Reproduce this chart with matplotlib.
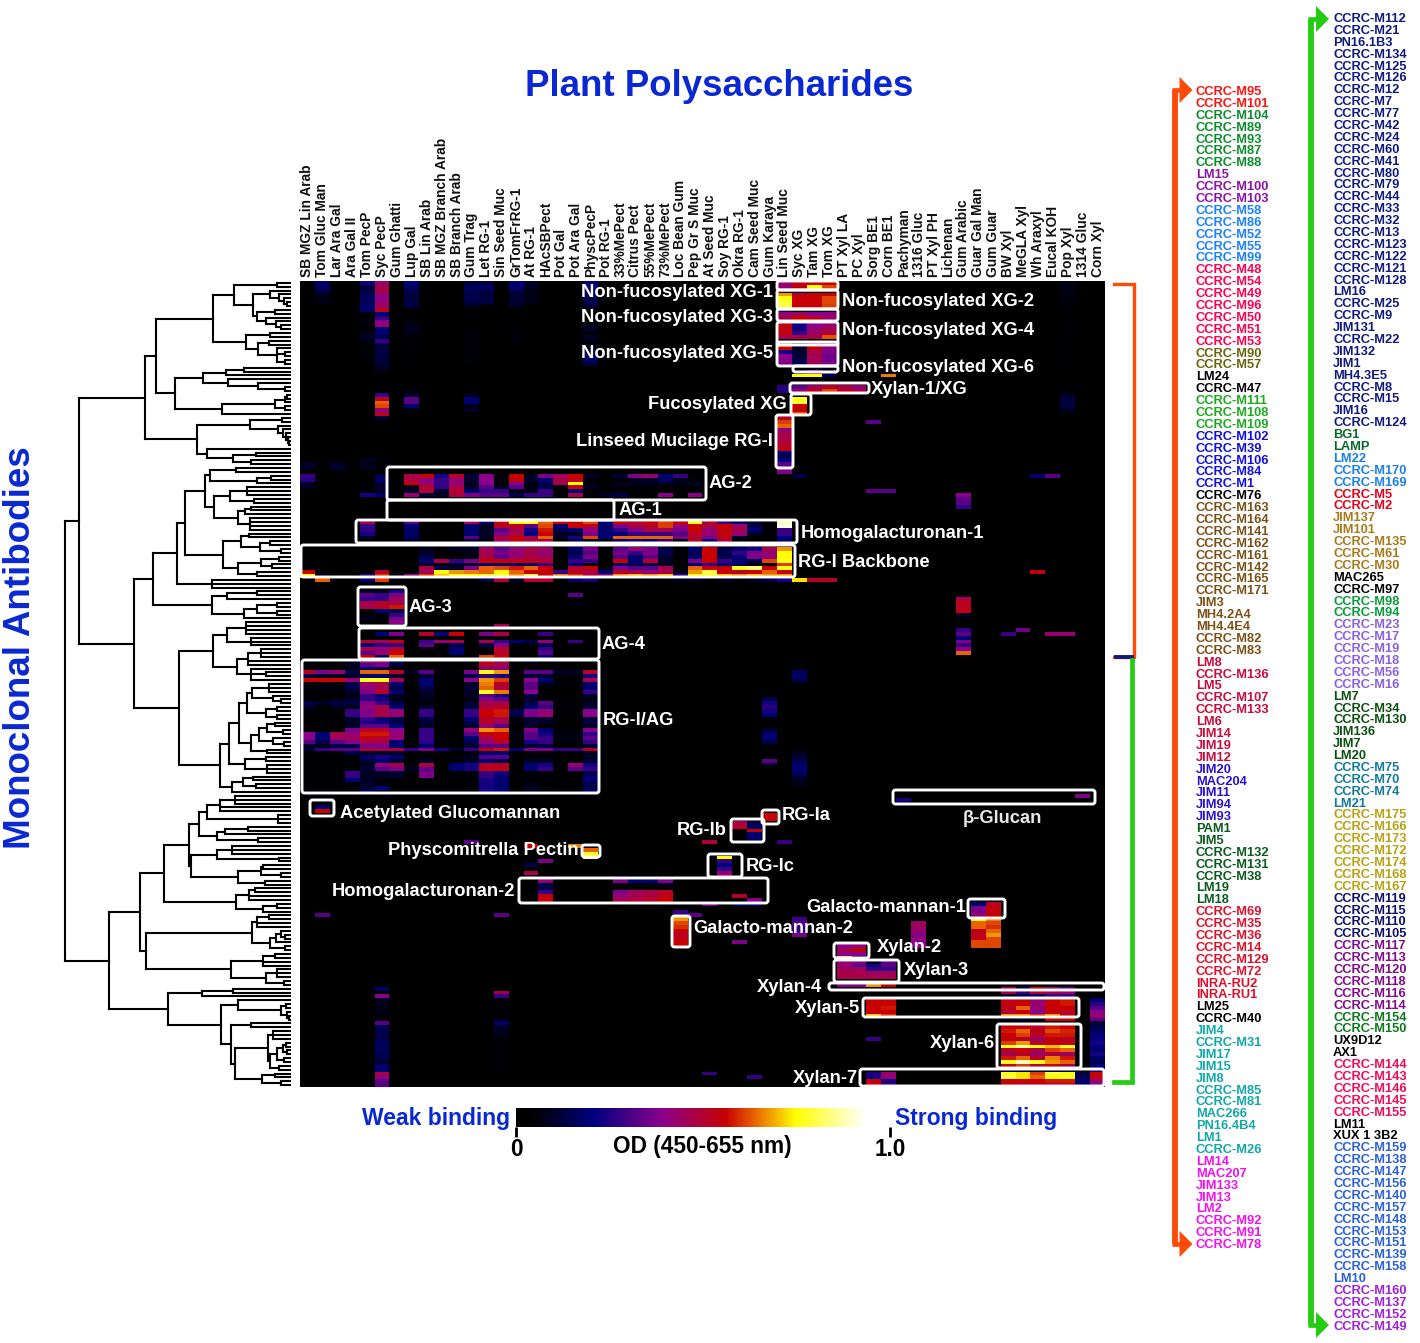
import numpy as np
import matplotlib
matplotlib.use("Agg")
import matplotlib.pyplot as plt
from matplotlib.collections import LineCollection
from matplotlib.colors import LinearSegmentedColormap
from matplotlib.patches import FancyBboxPatch, Polygon

plt.rcParams['font.family'] = ['Liberation Sans', 'DejaVu Sans']

W, H = 1420, 1343
BLUE = '#0a28d2'
ORANGE = '#ff4a08'
GREEN = '#26cc14'

column_labels = [
    'SB MGZ Lin Arab', 'Tom Gluc Man', 'Lar Ara Gal', 'Ara Gal II', 'Tom PecP', 'Syc PecP', 'Gum Ghatti',
    'Lup Gal', 'SB Lin Arab', 'SB MGZ Branch Arab', 'SB Branch Arab', 'Gum Trag', 'Let RG-1', 'Sin Seed Muc',
    'GrTomFrRG-1', 'At RG-1', 'HAcSBPect', 'Pot Gal', 'Pot Ara Gal', 'PhyscPecP', 'Pot RG-1', '33%MePect',
    'Citrus Pect', '55%MePect', '73%MePect', 'Loc Bean Gum', 'Pep Gr S Muc', 'At Seed Muc', 'Soy RG-1',
    'Okra RG-1', 'Cam Seed Muc', 'Gum Karaya', 'Lin Seed Muc', 'Syc XG', 'Tam XG', 'Tom XG', 'PT Xyl LA',
    'PC Xyl', 'Sorg BE1', 'Corn BE1', 'Pachyman', '1316 Gluc', 'PT Xyl PH', 'Lichenan', 'Gum Arabic',
    'Guar Gal Man', 'Gum Guar', 'BW Xyl', 'MeGLA Xyl', 'Wh Araxyl', 'Eucal KOH', 'Pop Xyl', '1314 Gluc',
    'Corn Xyl']

# antibodies, top to bottom, with the colour runs of each list
left_labels = ('CCRC-M95,CCRC-M101,CCRC-M104,CCRC-M89,CCRC-M93,CCRC-M87,CCRC-M88,LM15,CCRC-M100,CCRC-M103,'
               'CCRC-M58,CCRC-M86,CCRC-M52,CCRC-M55,CCRC-M99,CCRC-M48,CCRC-M54,CCRC-M49,CCRC-M96,CCRC-M50,'
               'CCRC-M51,CCRC-M53,CCRC-M90,CCRC-M57,LM24,CCRC-M47,CCRC-M111,CCRC-M108,CCRC-M109,CCRC-M102,'
               'CCRC-M39,CCRC-M106,CCRC-M84,CCRC-M1,CCRC-M76,CCRC-M163,CCRC-M164,CCRC-M141,CCRC-M162,'
               'CCRC-M161,CCRC-M142,CCRC-M165,CCRC-M171,JIM3,MH4.2A4,MH4.4E4,CCRC-M82,CCRC-M83,LM8,CCRC-M136,'
               'LM5,CCRC-M107,CCRC-M133,LM6,JIM14,JIM19,JIM12,JIM20,MAC204,JIM11,JIM94,JIM93,PAM1,JIM5,'
               'CCRC-M132,CCRC-M131,CCRC-M38,LM19,LM18,CCRC-M69,CCRC-M35,CCRC-M36,CCRC-M14,CCRC-M129,CCRC-M72,'
               'INRA-RU2,INRA-RU1,LM25,CCRC-M40,JIM4,CCRC-M31,JIM17,JIM15,JIM8,CCRC-M85,CCRC-M81,MAC266,'
               'PN16.4B4,LM1,CCRC-M26,LM14,MAC207,JIM133,JIM13,LM2,CCRC-M92,CCRC-M91,CCRC-M78').split(',')
left_runs = [2, 5, 3, 5, 7, 2, 2, 3, 5, 1, 13, 9, 5, 7, 8, 2, 11, 8]
left_colors = ['#ff1410', '#0c8c2c', '#8a12aa', '#1a80ff', '#ff0050', '#66660c', 'black', '#1caa1c', '#1010e0',
               'black', '#7a5016', '#c80a3c', '#2a10d0', '#0a5a1e', '#e0102a', 'black', '#10a8a8', '#f010f0']

right_labels = ('CCRC-M112,CCRC-M21,PN16.1B3,CCRC-M134,CCRC-M125,CCRC-M126,CCRC-M12,CCRC-M7,CCRC-M77,CCRC-M42,'
                'CCRC-M24,CCRC-M60,CCRC-M41,CCRC-M80,CCRC-M79,CCRC-M44,CCRC-M33,CCRC-M32,CCRC-M13,CCRC-M123,'
                'CCRC-M122,CCRC-M121,CCRC-M128,LM16,CCRC-M25,CCRC-M9,JIM131,CCRC-M22,JIM132,JIM1,MH4.3E5,'
                'CCRC-M8,CCRC-M15,JIM16,CCRC-M124,BG1,LAMP,LM22,CCRC-M170,CCRC-M169,CCRC-M5,CCRC-M2,JIM137,'
                'JIM101,CCRC-M135,CCRC-M61,CCRC-M30,MAC265,CCRC-M97,CCRC-M98,CCRC-M94,CCRC-M23,CCRC-M17,'
                'CCRC-M19,CCRC-M18,CCRC-M56,CCRC-M16,LM7,CCRC-M34,CCRC-M130,JIM136,JIM7,LM20,CCRC-M75,CCRC-M70,'
                'CCRC-M74,LM21,CCRC-M175,CCRC-M166,CCRC-M173,CCRC-M172,CCRC-M174,CCRC-M168,CCRC-M167,CCRC-M119,'
                'CCRC-M115,CCRC-M110,CCRC-M105,CCRC-M117,CCRC-M113,CCRC-M120,CCRC-M118,CCRC-M116,CCRC-M114,'
                'CCRC-M154,CCRC-M150,UX9D12,AX1,CCRC-M144,CCRC-M143,CCRC-M146,CCRC-M145,CCRC-M155,LM11,XUX 1 3B2,'
                'CCRC-M159,CCRC-M138,CCRC-M147,CCRC-M156,CCRC-M140,CCRC-M157,CCRC-M148,CCRC-M153,CCRC-M151,'
                'CCRC-M139,CCRC-M158,LM10,CCRC-M160,CCRC-M137,CCRC-M152,CCRC-M149').split(',')
right_runs = [35, 2, 3, 2, 5, 2, 2, 6, 6, 4, 7, 4, 6, 2, 2, 5, 2, 12, 4]
right_colors = ['#101a80', '#0a6a2a', '#1a80e8', '#e0001a', '#a87a1a', 'black', '#0a9a3a', '#8a60e0', '#0a500f',
                '#107a9a', '#b8a010', '#10106a', '#800a8a', '#0a7a1a', 'black', '#f00a5a', 'black', '#2a60d8',
                '#a020d8']

# OD readings, in blocks of rows; the rest of the matrix stays near zero
xg_block = [
    [.45, .58, .6, .6], [.45, .58, .8, .66], [.05, .02, .02, .02], [.72, .55, .6, .6], [.8, .6, .6, .66],
    [.85, .6, .6, .66], [.85, .6, .6, .65], [.1, .05, .05, .05], [.45, .48, .42, .44], [.5, .6, .56, .47],
    [.05, .05, .05, .05], [.58, .25, .42, .45], [.58, .25, .45, .5], [.58, .3, .48, .52], [.5, .5, .5, .67],
    [.05, .05, .05, .05], [.66, .12, .58, .42], [.6, .1, .58, .42], [.25, .12, .5, .4], [.42, .12, .5, .38],
    [.42, .15, .48, .38], [.4, .15, .5, .42], [.02, .05, .1, .05], [.02, .2, .42, .25], [.02, .8, .8, .15]]
xylan1_block = [[.27, .35, .48, .55, .5, .45], [.27, .45, .58, .66, .58, .5]]
fuc_xg_column = [.82, .84, .6, .6, .68]
linseed_column = [.55, .65, .68, .42, .5, .5, .52, .55, .58, .2, .15, .22, .35, .4, .4]
syc_pecp_top = [.45, .5, .5, .45, .42, .45, .48, .55, .2, .3, .42, .45, .2, .2, .15, .3, .14, .14, .14, .13, .13,
                .12, .1, .06, .05, .03, .03, .03, .03, .3, .55, .68, .66, .45, .55, .12]
tom_pecp_top = [.25, .13, .13, .17, .17, .17, .19, .19, .04, .06, .08, .05, .05, .08, .1, .08, .06, .06, .06, .06, .05]
lup_gal_top = [.22, .18, .15, .13, .13, .14, .14, 0, 0, .04, .05, .08, .1, .08, .05, .04, .04, .04, .03, .03, .02,
               0, 0, 0, 0, 0, 0, 0, .08, .1, .35, .35, .2, .08]
gum_trag_top = [.12, .18, .16, .14, .16, .14, .1, 0, 0, 0, 0, .03, .05, .05, .05, .05, .05, .05, .05, .06, .06,
                .04, 0, 0, 0, 0, 0, 0, .06, .08, .2, .2, .08, .1]
let_rg_top = [.14, .18, .15, .12, .14, .14, .06]
tom_gluc_top = [.18, .18, .15, .08, .08, .08]
grtom_top = [.2, .2, .15, .12, .12, .12, .1, 0, 0, 0, 0, .03, .05, .05, .07, .05]
at_rg_top = [.1, .1, .08, .08, .08, .08]
physc_top = [.2, .25, .2, .18, .15, .15, .12, 0, 0, 0, 0, .05, .12, .02, .12, .02, .08, .1, .12, .15, .2, .12]
pop_xyl_top = [.08, .08, .08, .07, .07, .06, .05, .04, .04, 0, 0, .06, .06, .05, .04, 0, .03, .03, .03, .03, .03,
               0, 0, 0, 0, 0, 0, 0, 0, .1, .13, .13, .13, .1, .05]
faint_block = [[.03, .02, .06, .02, .1, .07], [.1, .04, .1, .02, .08, .06], [.1, .02, .12, .02, .1, .04]]

ag2_block = [
    [.5, .6, .25, .55, .12, .42, .05, .6, .1, .4, .48, .6, .1, .05, .12, .4, .45, .2, .3, .05],
    [.52, .42, .3, .45, .12, .42, .05, .58, .1, .2, .5, .58, .05, .03, .05, .08, .1, .18, .08, .05],
    [.6, .45, .3, .45, .1, .42, .05, .42, .08, .15, .5, .8, .05, .03, .1, .1, .1, .1, .1, .1],
    [.1, .55, .3, .5, .1, .35, .1, .35, .08, .15, .05, .6, .1, .03, .05, .05, .05, .05, .05, .05],
    [.1, .52, .12, .55, .2, .3, .3, .08, .08, .3, .05, .2, .03, .03, .03, .03, .03, .03, .03, .03],
    [.45, .12, .1, .5, .4, .35, .35, .15, .3, .3, .05, .5, .03, .1, .15, .03, .05, .42, .05, .42]]
ag2_left_block = [[.3, 0, 0, 0, 0, .15], [.28, 0, 0, 0, 0, .2], [.1, 0, 0, 0, 0, .12], [.1, 0, 0, 0, 0, .12],
                  [.02, 0, 0, 0, .05, .1], [.02, 0, 0, 0, .25, .2]]
hg1_block = [
    [.5, 0, 0, .35, 0, 0, 0, .5, .2, .6, .8, .8, .68, .6, .6, .66, .2, .6, .55, .6, .65, .6, .8, .55, .3, .2, .1, .05, .95],
    [.3, 0, 0, .2, 0, 0, 0, .2, .1, .55, .55, .35, .66, .2, .6, .55, .2, .4, .5, .55, .65, .45, .6, .5, .6, .48, .15, .02, .98],
    [.3, 0, 0, .18, 0, 0, 0, .2, .1, .35, .5, .25, .62, .15, .2, .45, .2, .3, .4, .5, .5, .4, .6, .45, .58, .5, .2, .02, .3],
    [.25, 0, 0, .18, 0, 0, 0, .2, .1, .4, .52, .22, .6, .1, .1, .4, .2, .22, .3, .3, .3, .35, .55, .45, .58, .45, .1, .02, .3],
    [.1, 0, 0, .18, 0, 0, 0, .35, .1, .55, .58, .5, .68, .1, .25, .66, .2, .68, .68, .68, .68, .4, .55, .4, .58, .1, .02, .02, .22],
    [.05, 0, 0, .1, 0, 0, 0, .1, .02, .45, .58, .52, .5, .02, .15, .1, .02, .2, .25, .2, .3, .05, .55, .2, .5, .05, .02, .02, .2]]
backbone_block = [
    [0, 0, 0, 0, 0, 0, 0, 0, .1, .05, .1, .1, .48, .35, .45, .5, .48, .05, .2, .4, .02, .35, .45, .4, .15, .02, .2, .6, .15, .2, .25, .5, .72],
    [0, 0, 0, 0, 0, 0, 0, 0, .1, .03, .05, .08, .5, .4, .45, .5, .45, .03, .15, .35, .02, .4, .3, .4, .15, .02, .15, .6, .15, .3, .4, .45, .8],
    [0, 0, 0, 0, 0, 0, 0, 0, .15, .03, .05, .08, .5, .35, .45, .5, .48, .03, .2, .4, .02, .35, .2, .35, .12, .02, .2, .6, .15, .2, .4, .45, .8],
    [0, 0, 0, 0, 0, 0, 0, 0, .2, .5, .3, .4, .6, .6, .6, .58, .55, .03, .3, .3, .02, .6, .2, .55, .1, .02, .4, .6, .3, .2, .15, .66, .82],
    [0, 0, 0, 0, 0, 0, 0, 0, .1, .05, .1, .1, .2, .2, .2, .2, .3, .03, .2, .05, .02, .2, .15, .15, .1, .02, .2, .3, .2, .2, .05, .05, .65],
    [0, 0, 0, 0, 0, 0, 0, 0, .5, .15, .12, .4, .68, .66, .62, .68, .6, .05, .55, .6, .05, .4, .35, .35, .5, .05, .68, .6, .6, .82, .88, .6, .82],
    [.6, 0, 0, 0, .05, .55, 0, .05, .5, .8, .72, .7, .68, .8, .68, .6, .6, .3, .55, .5, .2, .55, .5, .45, .5, .1, .72, .85, .6, .55, .6, .68, .6],
    [.8, .1, 0, 0, .3, .65, .1, .45, .65, .75, .8, .8, .8, .85, .72, .85, .6, .7, .65, .55, .45, .72, .75, .72, .75, .3, .8, .82, .75, .72, .75, .72, .72],
    [0, .68, 0, 0, .2, .65, 0, 0, 0, 0, 0, 0, .15, .55, .1, .55, .55, .05, .2, .25, 0, 0, 0, .05, 0, .1, .1, 0, .1, .05, .1, .15, .25, .78, .55, .55]]
ag3_block = [[.1, .1, .25], [.35, .3, .4], [.3, .3, .48], [.5, .55, .5], [.5, .55, .62], [.05, .2, .15],
             [.05, .05, .3], [.1, .02, .4], [.05, .02, .42]]
ag4_block = [
    [0, .2, .4, 0, .55, .2, .6, 0, .4, .5, 0, 0, .3],
    [.05, .05, .05, 0, .05, .05, .05, 0, .05, .05, 0, 0, .05],
    [.55, .5, .6, 0, .3, .45, .52, 0, .5, .3, .2, .15, .45, 0, .3],
    [.2, .3, .3, 0, .35, .05, .15, 0, .15, .4, .05, .05, .15],
    [.5, .45, .55, 0, .05, .05, .2, 0, .05, .55, 0, 0, .3],
    [.35, .45, .6, 0, .02, .05, .2, 0, .05, .55, 0, 0, .35],
    [.6, .15, .68, 0, 0, 0, 0, 0, .65, .6, 0, 0, .2]]
rg1_ag_block = [
    [.02, .02, .02, .1, .45, .45, .2, 0, 0, 0, 0, 0, .6, .5, 0, .1, 0, 0, 0, 0],
    [.02, .02, .02, .1, .35, .4, .12, 0, 0, 0, 0, 0, .55, .5, 0, .05, 0, 0, 0, 0],
    [.02, .02, .02, .05, .2, .15, .05, 0, 0, 0, 0, 0, .4, .4, 0, .05, 0, 0, 0, 0],
    [.55, .4, .45, .15, .68, .68, .55, .1, .35, .05, .05, .4, .8, .72, .05, .35, .35, .1, .1, .55],
    [.15, .1, .1, .1, .2, .2, .12, .03, .12, .03, .03, .15, .3, .25, .03, .12, .12, .05, .05, .25],
    [.6, .6, .6, .45, .82, .82, .5, .05, .2, .03, .03, .42, .72, .65, .05, .42, .2, .05, .05, .5],
    [.05, .05, .05, .15, .45, .5, .2, .03, .2, 0, 0, .1, .7, .55, .03, .35, .1, .03, .03, .2],
    [.08, .08, .08, .15, .45, .5, .15, .03, .15, 0, 0, .12, .68, .52, .03, .35, .05, .03, .03, .2],
    [.03, .03, .03, .1, .4, .55, .2, .03, .1, 0, 0, .1, .82, .7, .03, .42, .05, .02, .02, .3],
    [.03, .03, .03, .08, .3, .2, .1, .02, .1, 0, 0, .1, .35, .25, .02, .15, .03, .02, .02, .1],
    [.03, .05, .05, .1, .3, .25, .08, .02, .08, 0, 0, .08, .4, .35, .02, .1, .03, .02, .02, .08],
    [.15, .1, .15, .15, .4, .3, .15, .02, .08, .02, .02, .12, .5, .5, .05, .15, .35, .05, .05, .1],
    [.1, .05, .1, .08, .45, .5, .2, .02, .1, .02, .02, .12, .52, .55, .05, .2, .3, .05, .05, .12],
    [.05, .03, .03, .3, .4, .5, .45, .03, .3, .03, .02, .3, .6, .62, .15, .4, .45, .05, .05, .42],
    [.05, .03, .03, .3, .42, .52, .45, .03, .3, .03, .02, .3, .6, .62, .15, .4, .45, .05, .05, .42],
    [.03, .02, .03, .1, .3, .2, .15, .02, .15, .02, .02, .2, .55, .5, .05, .12, .12, .03, .03, .12],
    [.03, .02, .03, .1, .25, .25, .15, .02, .12, .02, .02, .15, .55, .48, .05, .12, .1, .03, .03, .15],
    [.03, .02, .02, .12, .35, .35, .2, .02, .1, .02, .02, .12, .45, .35, .03, .1, .05, .03, .03, .1],
    [.05, .02, .05, .4, .55, .55, .42, .03, .3, .03, .02, .45, .72, .68, .05, .4, .2, .05, .05, .42],
    [.42, .2, .5, .45, .62, .62, .45, .03, .3, .05, .03, .35, .58, .6, .08, .35, .25, .08, .08, .3],
    [.42, .2, .48, .48, .58, .55, .45, .03, .3, .05, .03, .2, .5, .6, .05, .35, .3, .08, .08, .35],
    [.35, .15, .35, .42, .5, .5, .2, .03, .28, .05, .03, .15, .45, .55, .05, .25, .3, .05, .05, .3],
    [.1, .1, .15, .15, .4, .4, .2, .02, .2, .03, .02, .12, .35, .35, .03, .12, .15, .03, .03, .12],
    [.12, .3, .35, .35, .52, .5, .52, .3, .4, .25, .12, .3, .6, .62, .2, .4, .4, .3, .3, .55],
    [.05, .03, .05, .15, .1, .1, .1, .02, .05, .02, .02, .05, .2, .2, .03, .05, .05, .03, .03, .1],
    [.02, .02, .02, .05, .2, .25, .2, .02, .05, .02, .02, .1, .35, .35, .03, .05, .05, .02, .02, .1],
    [.02, .02, .02, .05, .12, .2, .12, .02, .1, .02, .02, .1, .2, .15, .03, .1, .1, .02, .02, .12],
    [.02, .02, .02, .05, .1, .45, .5, .05, .52, .02, .2, .25, .55, .55, .03, .2, .25, .05, .45, .25],
    [.02, .02, .02, .05, .12, .35, .4, .1, .35, .02, .2, .25, .58, .58, .03, .2, .3, .05, .35, .3],
    [.02, .02, .02, .3, .1, .1, .1, .02, .4, .02, .02, .05, .3, .25, .03, .05, .05, .02, .02, .15],
    [.02, .02, .02, .3, .1, .1, .12, .02, .4, .02, .02, .05, .3, .2, .03, .05, .05, .02, .02, .2],
    [.02, .02, .02, .2, .1, .05, .05, .02, .05, .02, .02, .05, .25, .2, .03, .05, .05, .02, .02, .2],
    [.02, .02, .02, .05, .1, .08, .03, .02, .03, .02, .02, .05, .25, .2, .03, .08, .05, .02, .02, .15],
    [.02, .02, .02, .05, .12, .2, .03, .02, .03, .02, .02, .05, .25, .2, .03, .1, .05, .02, .02, .15],
    [.02, .02, .02, .05, .2, .1, .03, .02, .03, .02, .02, .05, .25, .2, .03, .08, .05, .02, .02, .2]]
gum_arabic_column = [.5, .58, .55, .58, .1, .02, .02, .02, .3, .35, .2, .4, .3, .42, .68]
karaya_lower_column = [.15, .25, .28, .25, .2, .05, .03, .05, .12, .2, .2, .15, .04, .05, .04, .04, .35, .1]
syc_xg_upper_column = [.18, .18, .16]
syc_xg_lower_column = [.1, .12, .15, .2, .2, .18, .12, .1, .08]
rg_ib_block = [[.5, .15], [.55, .2], [.05, .6], [.05, .2], [.05, .2]]
rg_ic_column = [.8, .3, .22, .3, .45, .45]
hg2_col16 = [.45, .15, .15, .3, .58, .6]
hg2_pect_block = [[.4, .2, .2, .4], [.05, .05, .05, .1], [.05, .05, .05, .05], [.4, .48, .5, .55], [.45, .5, .52, .58],
                  [.5, .52, .55, .6]]
gm2_column = [.72, .66, .64, .6, .55, .58, .6, .6]
gm1_block = [[.2, .55], [.4, .6], [.4, .58], [.45, .6], [.8, .7], [.68, .66], [.68, .64], [.58, .68], [.55, .72],
             [.6, .66], [.66, .66], [.66, .66]]
pachyman_like_column = [.48, .48, .45, .4, .45, .42, .42]
xylan2_block = [[.42, .45], [.5, .58], [.42, .42], [.75, .1]]
xylan3_block = [[.45, .4, .1, .35], [.45, .35, .25, .35], [.48, .48, .3, .3], [.5, .5, .48, .48], [.5, .5, .5, .5]]
xylan4_block = [[.4, .4, .72, .6]]
xylan5_left_block = [[.6, .6], [.6, .6], [.6, .62], [.6, .6], [.75, .65]]
xylan5_block = [[.55, .6, .45, .6, .62], [.6, .6, .45, .6, .62], [.55, .68, .45, .6, .6], [.55, .6, .42, .58, .55],
                [.72, .72, .65, .72, .6], [.05, .1, .05, .6, .6]]
xylan_upper_block = [[.5, .2, .6, .45, .35], [.5, .3, .55, .5, .45], [.1, .15, .2, .3, .3]]
xylan6_block = [
    [.6, .6, .55, .62, .6], [.62, .68, .58, .66, .63], [.6, .65, .55, .62, .62], [.58, .55, .48, .58, .55],
    [.65, .72, .55, .58, .58], [.82, .92, .8, .75, .82], [.55, .6, .5, .65, .68], [.5, .55, .48, .52, .48],
    [.62, .68, .55, .7, .62], [.82, .95, .82, .72, .68], [.6, .65, .55, .6, .5], [.1, .1, .1, .1, .1]]
xylan7_block = [[.82, .78, .65, .85, .82, .15, .6], [.85, .78, .68, .8, .82, .15, .58], [.6, .6, .6, .62, .62, .2, .45],
                [.58, .55, .55, .55, .58, .2, .42]]
xylan7_left_block = [[.25, .45], [.25, .45], [.58, .25], [.6, .3]]
corn_xyl_column = [.2, .28, .35, .42, .45, .35, .12, .15, .18, .2, .22, .25, .22, .2, .25, .18, .15, .22, .25]
syc_pecp_low = [.2, .03, .42, .1, .08, .08, .08, .06, .06, .35, .15, .16, .15, .15, .18, .16, .18, .16, .15, .12, .2,
                .2, .5, .45, .35, .35]
pot_lower = [.5, .3, .05, .05, .05, .05, .05, .05, .2, .1, .1, .08, .05, .05, .05, .05, .05, .05, .05, .05, .05]

L = None
# merge distances of the antibody clustering; L is one antibody
clade_a = [57, [14, L, L],
           [38, [21, L, [12, L, [7, L, [4, L, L]]]],
            [34, [16, L, L], [25, L, [15, L, [10, L, L]]]]]]
clade_b = [45, [21, L, L], [33, [22, L, L], [14, L, [6, L, L], [6, L, L]]]]
clade_c = [88, [65, [47, L, L], L], [63, L, [33, L, [6, L, L]]]]
clade_d = [69, [16, [6, [4, L, L], L], [6, L, L]], L]
clade_e = [41, [9, L, L], [13, L, [8, L, [5, L, [3, L, [2, L, L]]]]]]
clade_f = [84, L, [58, [35, L, L], [40, L, L]]]
upper_a = [146, [135, [78, clade_a, clade_b], [116, clade_c, clade_d]], [94, clade_e, clade_f]]

clade_g1a = [86, [81, [55, L, L], [34, [20, L, L], L]],
             [77, [61, [44, L, L, L], [37, L, L]],
              [53, [46, [40, L, L], L], [41, L, L, L, L]]]]
clade_g1b = [68, [50, [42, L, L], [31, [21, L, L], [10, L, L]]],
             [53, [30, [12, L, L], [19, L, L]], [34, L, L]]]
clade_m = [79, [64, [34, L, L], L], [47, [34, [14, L, L], [14, L, L]], L]]
clade_b1 = [138, [114, [106, clade_g1a, clade_g1b], [79, L, L, L]], clade_m]
clade_n = [78, [64, [45, L, L, L, L], [40, L, L, L]],
           [54, [43, [30, L, L, L], L, L], [40, L, [25, L, L], L]]]
clade_q = [52, [44, [39, [22, L, L, L], [18, L, [10, L, L]]], [25, [14, L, L], [14, L, L]]],
           [40, [32, [24, [16, L, L], [8, L, L]], [18, L, [7, L, L]]], [24, L, L]]]
clade_o = [71, [62, clade_q, [46, [25, L, L], [24, L, L, L]]], [59, [48, [38, L, L], [35, L, L]], L]]
upper_b = [157, clade_b1, [112, clade_n, clade_o]]

clade_t1 = [102, [92, [84, [71, [56, L, L, L], L, L], [13, L, L, L]], [74, [66, [43, L, L], L], [33, L, L]]],
            [100, [74, [59, L, L, L], [12, L, L]], [53, [30, [28, L, L], [10, L, L]], [26, L, L]]]]
clade_t = [127, clade_t1, [55, [42, [36, L, L], L, L], [28, [14, L, L], L]]]
clade_v = [145, [39, [34, [22, L, L], L, L], [21, [15, [10, L, [6, L, L]], L], [6, L, L]]],
           [60, [28, [16, L, L], L, L], [25, [14, L, L, L], [7, L, L]]]]
clade_y1 = [23, [18, L, L, L], [21, [14, [8, [5, L, L], [4, L, L]], [7, L, L]], [12, L, L]]]
clade_x = [70, [53, L, [10, [5, L, L], [4, L, [2, L, L]]]],
           [60, [40, L, L], [56, clade_y1, [29, [16, L, L], [10, L, L]]]]]
lower_c = [182, [151, clade_t, clade_v], [123, [89, [58, L, L], L], clade_x]]
tree = [226, [212, upper_a, upper_b], lower_c]

# white outlines and their labels, in picture pixels
box_edges = [
    (777, 281, 838, 290), (777, 290, 838, 309), (777, 309, 838, 321), (777, 322, 838, 345), (777, 342, 838, 366),
    (793, 366, 838, 372), (790, 383, 869, 393), (791, 394, 811, 415), (776, 415, 793, 468), (387, 467, 706, 500),
    (387, 500, 614, 520), (356, 520, 797, 543), (301, 545, 795, 577), (358, 587, 406, 626), (359, 628, 599, 659),
    (302, 660, 599, 793), (310, 800, 334, 816), (731, 819, 764, 842), (762, 810, 779, 824), (582, 845, 600, 857),
    (708, 854, 742, 877), (519, 878, 768, 903), (672, 916, 690, 947), (968, 899, 1005, 918), (834, 943, 869, 958),
    (834, 960, 899, 982), (829, 983, 1104, 990), (863, 998, 1079, 1017), (997, 1024, 1081, 1068),
    (860, 1069, 1104, 1086), (893, 790, 1095, 804)]
right_anchored = [
    ('Non-fucosylated XG-1', 773, 291), ('Non-fucosylated XG-3', 773, 316), ('Non-fucosylated XG-5', 773, 352),
    ('Fucosylated XG', 787, 403), ('Linseed Mucilage RG-I', 773, 440), ('RG-Ib', 727, 829),
    ('Physcomitrella Pectin', 579, 849), ('Homogalacturonan-2', 515, 890), ('Galacto-mannan-1', 966, 906),
    ('Xylan-4', 822, 986), ('Xylan-5', 860, 1007), ('Xylan-6', 995, 1042), ('Xylan-7', 858, 1077)]
left_anchored = [
    ('Non-fucosylated XG-2', 842, 300), ('Non-fucosylated XG-4', 842, 329), ('Non-fucosylated XG-6', 842, 366),
    ('Xylan-1/XG', 871, 388), ('AG-2', 709, 482), ('AG-1', 619, 509), ('Homogalacturonan-1', 801, 532),
    ('RG-I Backbone', 798, 561), ('AG-3', 409, 606), ('AG-4', 602, 643), ('RG-I/AG', 603, 719),
    ('Acetylated Glucomannan', 340, 812), ('RG-Ia', 782, 814), ('RG-Ic', 746, 865), ('Galacto-mannan-2', 693, 927),
    ('Xylan-2', 877, 946), ('Xylan-3', 904, 969)]

n_rows = len(left_labels) + len(right_labels)
n_cols = len(column_labels)
heat = np.full((n_rows, n_cols), 0.012)


def place(row, col, block):
    for i, values in enumerate(block):
        for j, v in enumerate(values):
            heat[row + i, col + j] = max(heat[row + i, col + j], v)


def place_col(row, col, values):
    place(row, col, [[v] for v in values])


place(0, 32, xg_block)
place(27, 32, xylan1_block)
place_col(30, 33, fuc_xg_column)
place_col(35, 32, linseed_column)
place_col(0, 5, syc_pecp_top)
place_col(0, 4, tom_pecp_top)
place_col(0, 7, lup_gal_top)
place_col(0, 11, gum_trag_top)
place_col(0, 12, let_rg_top)
place_col(0, 1, tom_gluc_top)
place_col(0, 14, grtom_top)
place_col(0, 15, at_rg_top)
place_col(0, 19, physc_top)
place_col(0, 51, pop_xyl_top)
place(46, 0, faint_block)
place(50, 7, ag2_block)
place(50, 0, ag2_left_block)
place(62, 4, hg1_block)
place(69, 0, backbone_block)
place(80, 4, ag3_block)
place(91, 4, ag4_block)
place(98, 0, rg1_ag_block)
place_col(82, 44, gum_arabic_column)
place_col(108, 31, karaya_lower_column)
place_col(101, 33, syc_xg_upper_column)
place_col(122, 33, syc_xg_lower_column)
place(140, 29, rg_ib_block)
place_col(149, 28, rg_ic_column)
place_col(155, 16, hg2_col16)
place(155, 21, hg2_pect_block)
place_col(165, 25, gm2_column)
place(161, 45, gm1_block)
place_col(166, 41, pachyman_like_column)
place(172, 36, xylan2_block)
place(176, 36, xylan3_block)
place(182, 36, xylan4_block)
place(186, 38, xylan5_left_block)
place(186, 47, xylan5_block)
place(183, 47, xylan_upper_block)
place(193, 47, xylan6_block)
place(205, 47, xylan7_block)
place(205, 38, xylan7_left_block)
place_col(186, 53, corn_xyl_column)
place_col(183, 5, syc_pecp_low)
place_col(184, 13, pot_lower)

# single scattered readings: row, column, value
spot_rows = [24, 36, 54, 54, 55, 56, 57, 58, 75, 90, 91, 91, 91, 81, 89, 136, 137, 138, 139, 145, 145, 145, 146, 146,
             147, 148, 149, 150, 151, 153, 161, 163, 164, 164, 164, 164, 165, 166, 167, 168, 169, 171, 205, 206, 133,
             134, 50, 50, 50, 51, 196, 160, 161, 161, 159]
spot_cols = [39, 38, 38, 39, 44, 44, 44, 44, 49, 48, 50, 51, 47, 18, 13, 1, 1, 31, 31, 27, 32, 11, 15, 18,
             19, 19, 19, 16, 15, 15, 27, 25, 25, 1, 13, 26, 33, 33, 33, 33, 33, 29, 27, 30, 52,
             40, 33, 49, 50, 36, 38, 30, 29, 30, 29]
spot_vals = [.7, .35, .35, .35, .42, .35, .35, .3, .58, .38, .45, .45, .3, .35, .5, .2, .6, .6, .6, .52, .3, .35, .6,
             .7, .68, .82, .82, .4, .15, .5, .4, .3, .3, .35, .35, .35, .3, .35, .3, .3, .4, .4, .3, .3, .4,
             .25, .15, .2, .35, .05, .3, .42, .2, .2, .55]
for r, c, v in zip(spot_rows, spot_cols, spot_vals):
    heat[r, c] = max(heat[r, c], v)

od_cmap = LinearSegmentedColormap.from_list('od', [
    (0, '#000000'), (.06, '#000008'), (.22, '#000080'), (.42, '#8b008b'), (.6, '#c80000'), (.68, '#e86000'),
    (.8, '#ffff00'), (1, '#ffffff')])


def px_axes(x0, y0, x1, y1):
    return fig.add_axes([x0 / W, 1 - y1 / H, (x1 - x0) / W, (y1 - y0) / H])


fig = plt.figure(figsize=(W / 100, H / 100), dpi=100)

ax_heat = px_axes(300, 281, 1105, 1087)
ax_heat.imshow(heat, cmap=od_cmap, vmin=0, vmax=1, aspect='auto', interpolation='nearest')
ax_heat.xaxis.tick_top()
ax_heat.set_xticks(range(n_cols))
ax_heat.set_xticklabels(column_labels, rotation=90, fontsize=9.9, fontweight='bold', color='#111111')
ax_heat.tick_params(axis='x', length=0, pad=3)
ax_heat.set_yticks([])
for s in ax_heat.spines.values():
    s.set_visible(False)

# dendrogram, drawn from the merge distances
ax_tree = px_axes(56, 281, 291, 1087)
ax_tree.set_xlim(235, 0)
ax_tree.set_ylim(n_rows, 0)
ax_tree.axis('off')
segments = []
leaf_no = [0]


def walk(node):
    if node is None:
        y = leaf_no[0] + .5
        leaf_no[0] += 1
        return 0, y
    h = node[0]
    kids = [walk(k) for k in node[1:]]
    ys = [k[1] for k in kids]
    for kh, ky in kids:
        segments.append([(h, ky), (kh, ky)])
    segments.append([(h, min(ys)), (h, max(ys))])
    return h, (min(ys) + max(ys)) / 2


walk(tree)
ax_tree.add_collection(LineCollection(segments, colors='black', linewidths=1.5, capstyle='projecting'))

# colour bar: the gradient ends short of the 1.0 tick
ax_bar = px_axes(516, 1108, 890, 1127)
ax_bar.imshow(np.linspace(0, 1, 256)[None, :], cmap=od_cmap, aspect='auto', extent=[0, .935, 0, 1])
ax_bar.set_xlim(0, 1)
ax_bar.set_ylim(0, 1)
ax_bar.set_yticks([])
ax_bar.set_xticks([0, 1])
ax_bar.set_xticklabels(['0', '1.0'], fontsize=16.3, fontweight='bold')
ax_bar.tick_params(axis='x', length=7, width=2, pad=1)
for s in ax_bar.spines.values():
    s.set_visible(False)

# everything else sits on a full-figure layer in picture pixels
ov = fig.add_axes([0, 0, 1, 1], facecolor='none')
ov.set_xlim(0, W)
ov.set_ylim(H, 0)
ov.axis('off')

for x0, y0, x1, y1 in box_edges:
    ov.add_patch(FancyBboxPatch((x0, y0), x1 - x0, y1 - y0, boxstyle='round,pad=0,rounding_size=2.5',
                                fc='none', ec='white', lw=2.1))

ann = dict(color='white', fontsize=13.2, fontweight='bold', va='center')
for s, x, y in right_anchored:
    ov.text(x, y + 1.5, s, ha='right', **ann)
for s, x, y in left_anchored:
    ov.text(x, y + 1.5, s, ha='left', **ann)
ov.text(1002, 818.5, 'β-Glucan', ha='center', color='#e8e8e8', fontsize=13.2, fontweight='bold', va='center')

ov.text(719, 87, 'Plant Polysaccharides', color=BLUE, fontsize=26.4, fontweight='bold', ha='center', va='center')
ov.text(21, 648, 'Monoclonal Antibodies', color=BLUE, fontsize=26.5, fontweight='bold', rotation=90,
        ha='center', va='center')
ov.text(510, 1118, 'Weak binding', color=BLUE, fontsize=16.5, fontweight='bold', ha='right', va='center')
ov.text(895, 1118, 'Strong binding', color=BLUE, fontsize=16.5, fontweight='bold', ha='left', va='center')
ov.text(702, 1146, 'OD (450-655 nm)', color='black', fontsize=16.3, fontweight='bold', ha='center', va='center')


def label_column(labels, runs, colors, x, y0):
    i = 0
    for run, color in zip(runs, colors):
        for s in labels[i:i + run]:
            ov.text(x, y0 + i * 11.888, s, color=color, fontsize=9.3, fontweight='bold', ha='left', va='center')
            i += 1


label_column(left_labels, left_runs, left_colors, 1196, 92)
label_column(right_labels, right_runs, right_colors, 1333, 19)


def long_arrow(x, y_top, y_bottom, color):
    ov.plot([x, x], [y_top, y_bottom], color=color, lw=4.2, solid_capstyle='butt')
    for y in (y_top, y_bottom):
        ov.plot([x - 3, x + 8], [y, y], color=color, lw=3.4, solid_capstyle='butt')
        ov.add_patch(Polygon([(x + 5, y - 13), (x + 18, y), (x + 5, y + 13)], fc=color, ec='none'))


long_arrow(1174.5, 90, 1244, ORANGE)
long_arrow(1311, 19, 1325, GREEN)

# bracket beside the heat map
ov.plot([1114, 1134, 1134, 1114], [284, 284, 657, 657], color=ORANGE, lw=2.4, solid_joinstyle='miter')
ov.plot([1114, 1134], [657, 657], color='#101a80', lw=2.8, solid_capstyle='butt')
ov.plot([1132, 1132, 1114], [660, 1082, 1082], color=GREEN, lw=3.4, solid_joinstyle='miter')

fig.savefig('out.png', dpi=100)
